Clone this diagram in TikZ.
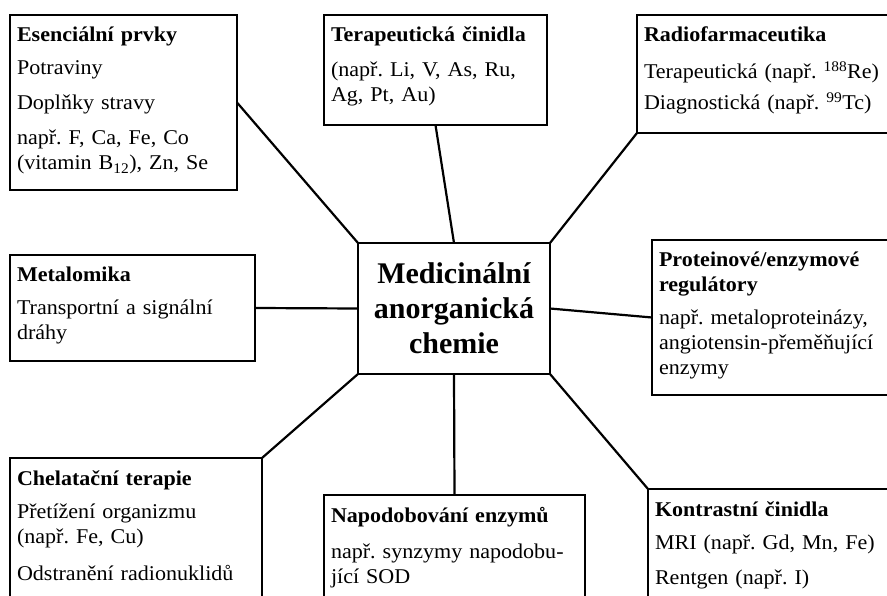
\documentclass[tikz,border=0pt]{standalone}
\usepackage{fontspec}
\setmainfont{Liberation Serif}
\newfontfamily\boxfont[FakeStretch=1.05]{Liberation Serif}
\frenchspacing

\begin{document}
\begin{tikzpicture}[x=1pt,y=-1pt]
\tikzstyle{topic}=[draw, line width=2.2pt, outer sep=0pt, anchor=north west, align=left, inner xsep=7pt, inner ysep=10pt, text height=17pt, font=\boxfont\fontsize{21}{25}\selectfont]
\tikzstyle{hub}=[draw, line width=2.2pt, outer sep=0pt, inner sep=0pt, minimum width=192pt, minimum height=131pt, align=center, font=\bfseries\fontsize{30}{35}\selectfont]
\tikzstyle{link}=[line width=2.2pt]
\useasboundingbox (0,0) rectangle (887,596);
\clip (0,0) rectangle (887,596);
\node[hub] (chem) at (454,308.5) {Medicinální\\anorganická\\chemie};
\node[topic, text width=213pt, text depth=138pt] (esen) at (10,15) {\textbf{Esenciální prvky}\\[8pt]Potraviny\\[10pt]Doplňky stravy\\[10pt]např. F, Ca, Fe, Co\\(vitamin B\textsubscript{12}), Zn, Se};
\node[topic, text width=209pt, text depth=73pt] (terap) at (324,15) {\textbf{Terapeutická činidla}\\[10pt](např. Li, V, As, Ru,\\Ag, Pt, Au)};
\node[topic, text width=246pt, text depth=81pt] (radio) at (637,15) {\textbf{Radiofarmaceutika}\\[12pt]Terapeutická (např. \textsuperscript{188}Re)\\[6pt]Diagnostická (např. \textsuperscript{99}Tc)};
\node[topic, text width=231pt, text depth=69pt] (metal) at (10,255) {\textbf{Metalomika}\\[8pt]Transportní a signální\\dráhy};
\node[topic, text width=231pt, text depth=118pt] (prot) at (652,240) {\textbf{Proteinové/enzymové}\\\textbf{regulátory}\\[8pt]např. metaloproteinázy,\\angiotensin-přeměňující\\enzymy};
\node[topic, text width=238pt, text depth=113pt] (chel) at (10,458) {\textbf{Chelatační terapie}\\[8pt]Přetížení organizmu\\(např. Fe, Cu)\\[12pt]Odstranění radionuklidů};
\node[topic, text width=247pt, text depth=83pt] (napo) at (324,495) {\textbf{Napodobování enzymů}\\[11pt]např. synzymy napodobu-\\jící SOD};
\node[topic, text width=235pt, text depth=83pt] (kontr) at (648,489) {\textbf{Kontrastní činidla}\\[8pt]MRI (např. Gd, Mn, Fe)\\[10pt]Rentgen (např. I)};
\draw[link] (esen.east) -- (chem.north west);
\draw[link] (terap.south) -- (chem.north);
\draw[link] (radio.south west) -- (chem.north east);
\draw[link] (metal.east) -- (chem.west);
\draw[link] (prot.west) -- (chem.east);
\draw[link] (chel.north east) -- (chem.south west);
\draw[link] (napo.north) -- (chem.south);
\draw[link] (kontr.north west) -- (chem.south east);
\end{tikzpicture}
\end{document}
